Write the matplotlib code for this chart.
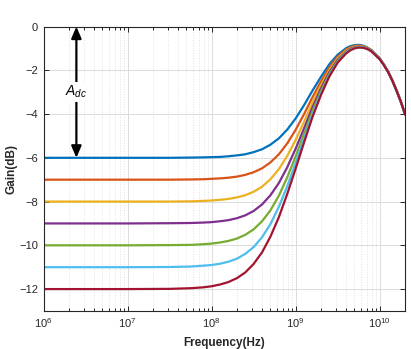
import matplotlib
matplotlib.use("Agg")
import matplotlib.pyplot as plt
from matplotlib.ticker import LogLocator, NullFormatter

plt.rcParams['font.family'] = ['Liberation Sans', 'DejaVu Sans']
plt.rcParams['mathtext.fontset'] = 'custom'
plt.rcParams['mathtext.rm'] = 'Liberation Sans'
plt.rcParams['mathtext.it'] = 'Liberation Sans:italic'
plt.rcParams['mathtext.bf'] = 'Liberation Sans:bold'

# frequenze (Hz)
freq_hz = [1e6, 1e7, 3.16e7, 5.62e7, 7.94e7, 1e8, 1.26e8, 1.58e8, 2e8, 2.51e8,
           3.16e8, 3.98e8, 5.01e8, 6.31e8, 7.94e8, 1e9, 1.26e9, 1.58e9, 2e9, 2.51e9,
           3.16e9, 3.98e9, 4.47e9, 5.01e9, 5.62e9, 6.31e9, 7.08e9, 7.94e9, 1e10, 1.12e10,
           1.26e10, 1.41e10, 1.58e10, 1.78e10, 2e10]

# guadagno (dB) per ogni curva, Adc da -6 a -12 dB
gain_6 = [-6.00, -6.00, -6.00, -5.99, -5.98, -5.97, -5.96, -5.93, -5.89, -5.84,
          -5.74, -5.61, -5.40, -5.11, -4.71, -4.20, -3.59, -2.94, -2.30, -1.73,
          -1.29, -0.99, -0.90, -0.85, -0.84, -0.87, -0.95, -1.07, -1.45, -1.73,
          -2.06, -2.45, -2.90, -3.41, -3.99]
gain_7 = [-7.00, -7.00, -7.00, -6.99, -6.98, -6.96, -6.94, -6.91, -6.86, -6.78,
          -6.66, -6.48, -6.21, -5.84, -5.34, -4.72, -4.00, -3.24, -2.51, -1.88,
          -1.38, -1.05, -0.95, -0.89, -0.87, -0.90, -0.97, -1.08, -1.46, -1.73,
          -2.06, -2.45, -2.90, -3.41, -3.99]
gain_8 = [-8.00, -8.00, -8.00, -7.99, -7.97, -7.95, -7.92, -7.88, -7.81, -7.71,
          -7.55, -7.32, -6.98, -6.52, -5.91, -5.18, -4.35, -3.49, -2.69, -2.00,
          -1.46, -1.10, -0.99, -0.92, -0.90, -0.92, -0.98, -1.10, -1.47, -1.74,
          -2.07, -2.45, -2.90, -3.41, -3.99]
gain_9 = [-9.00, -9.00, -8.99, -8.98, -8.96, -8.94, -8.90, -8.85, -8.76, -8.63,
          -8.43, -8.13, -7.71, -7.15, -6.43, -5.58, -4.65, -3.71, -2.83, -2.09,
          -1.53, -1.15, -1.02, -0.95, -0.92, -0.94, -1.00, -1.11, -1.48, -1.75,
          -2.07, -2.46, -2.91, -3.42, -4.00]
gain_10 = [-10.00, -10.00, -9.99, -9.98, -9.95, -9.92, -9.87, -9.80, -9.69, -9.52,
           -9.27, -8.90, -8.40, -7.73, -6.89, -5.93, -4.90, -3.88, -2.95, -2.17,
           -1.58, -1.18, -1.05, -0.97, -0.94, -0.95, -1.01, -1.12, -1.48, -1.75,
           -2.08, -2.46, -2.91, -3.42, -4.00]
gain_11 = [-11.00, -11.00, -10.99, -10.97, -10.93, -10.90, -10.84, -10.75, -10.61, -10.39,
           -10.08, -9.63, -9.03, -8.24, -7.30, -6.23, -5.12, -4.03, -3.05, -2.24,
           -1.62, -1.20, -1.07, -0.99, -0.95, -0.96, -1.02, -1.12, -1.49, -1.75,
           -2.08, -2.46, -2.91, -3.42, -4.00]
gain_12 = [-12.00, -12.00, -11.99, -11.96, -11.92, -11.87, -11.79, -11.68, -11.50, -11.24,
           -10.85, -10.32, -9.60, -8.71, -7.65, -6.49, -5.29, -4.15, -3.13, -2.29,
           -1.65, -1.23, -1.09, -1.00, -0.96, -0.97, -1.02, -1.13, -1.49, -1.76,
           -2.08, -2.46, -2.91, -3.42, -4.00]

curves = [gain_6, gain_7, gain_8, gain_9, gain_10, gain_11, gain_12]
colors = ['#0072BD', '#D95319', '#EDB120', '#7E2F8E', '#77AC30', '#4DBEEE', '#A2142F']

# freccia Adc
arrow_f = 2.45e6
arrow_top = 0
arrow_bottom = -6
label_y = -3.0

fig = plt.figure(figsize=(4.11, 3.49), dpi=100)
ax = fig.add_axes([0.1063, 0.109, 0.879, 0.815])

for g, c in zip(curves, colors):
    ax.semilogx(freq_hz, g, color=c, linewidth=1.6)

ax.set_xlim(1e6, 2e10)
ax.set_ylim(-13, 0)
ax.set_yticks(range(-12, 1, 2))
ax.xaxis.set_major_locator(LogLocator(base=10, numticks=10))
ax.xaxis.set_minor_locator(LogLocator(base=10, subs=range(2, 10), numticks=20))
ax.xaxis.set_minor_formatter(NullFormatter())

ax.grid(True, which='major', color='#dcdcdc', linewidth=0.7)
ax.grid(True, which='minor', axis='x', color='#e2e2e2', linestyle=':', linewidth=0.7)
ax.set_axisbelow(True)

ax.tick_params(which='both', direction='in', top=True, right=True,
               labelsize=8, colors='#262626', width=0.7)
ax.tick_params(which='major', length=3.5, pad=4)
ax.tick_params(which='minor', length=2)
for s in ax.spines.values():
    s.set_color('#262626')
    s.set_linewidth(0.8)

ax.set_xlabel('Frequency(Hz)', fontsize=8.5, fontweight='bold', color='#262626', labelpad=5)
ax.set_ylabel('Gain(dB)', fontsize=8.5, fontweight='bold', color='#262626', labelpad=1)

ax.annotate('', xy=(arrow_f, arrow_bottom), xytext=(arrow_f, arrow_top),
            arrowprops=dict(arrowstyle='<|-|>,head_length=0.7,head_width=0.3',
                            color='black', lw=1.6, shrinkA=0, shrinkB=0))
ax.text(arrow_f, label_y, r'$A_{dc}$', fontsize=10, ha='center', va='center',
        bbox=dict(facecolor='white', edgecolor='none', pad=1.5))

fig.savefig('out.png', dpi=100)
